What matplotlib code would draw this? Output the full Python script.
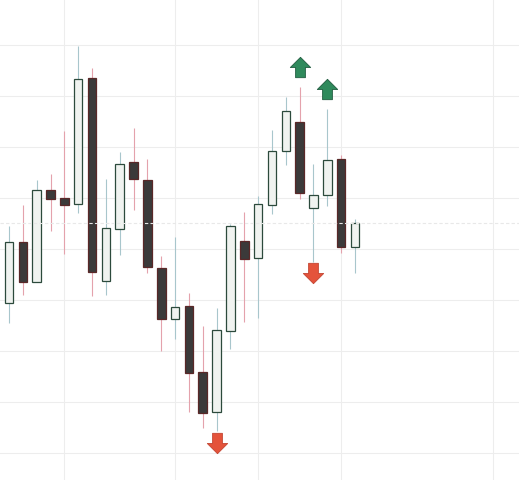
import matplotlib
matplotlib.use("Agg")
import matplotlib.pyplot as plt
from matplotlib.path import Path
import numpy as np

# OHLC values
opens = [39.4, 51.4, 43.5, 61.6, 60.0, 58.8, 83.5, 43.7, 53.9, 67.1, 63.5, 46.3, 36.3,
         38.8, 25.9, 18.0, 33.9, 51.6, 48.2, 58.6, 69.2, 74.9, 58.0, 60.6, 67.6, 50.4]
highs = [54.5, 58.6, 63.5, 64.7, 73.1, 89.8, 85.5, 63.7, 69.0, 73.7, 67.6, 48.6, 52.4,
         41.4, 34.9, 38.4, 54.9, 57.3, 60.4, 73.3, 79.8, 81.8, 66.7, 77.5, 68.4, 55.9]
lows = [35.5, 41.0, 43.5, 53.5, 49.0, 57.1, 40.8, 41.0, 48.8, 57.6, 45.3, 30.0, 32.4,
        18.0, 14.9, 14.3, 30.4, 35.7, 36.5, 56.9, 66.5, 59.8, 47.5, 58.4, 49.2, 45.3]
closes = [51.4, 43.5, 61.6, 59.8, 58.6, 83.3, 45.5, 54.1, 66.7, 63.7, 46.5, 36.3, 38.6,
          25.7, 17.8, 34.1, 54.5, 48.0, 58.8, 69.2, 77.1, 61.0, 60.6, 67.5, 50.4, 55.1]

buy_signals = [21, 23]
sell_signals = [15, 22]
x_grid = [4, 12, 18, 24, 35]
y_grid = [10, 20, 30, 40, 50, 60, 70, 80, 90]

up_fill, up_edge, up_wick = "#f0f3f0", "#2c4a3c", "#a8c6cc"
dn_fill, dn_edge, dn_wick = "#3b3a3a", "#5a2828", "#e4a2ac"

fig = plt.figure(figsize=(5.19, 4.8), dpi=100)
ax = fig.add_axes([0, 0, 1, 1])

for v in x_grid:
    ax.axvline(v, color="#ededed", lw=0.8, zorder=0)
for v in y_grid:
    ax.axhline(v, color="#ededed", lw=0.8, zorder=0)

x = np.arange(len(opens))
o = np.array(opens)
c = np.array(closes)
bull = c >= o

wick_colors = [up_wick if b else dn_wick for b in bull]
ax.vlines(x, lows, highs, colors=wick_colors, lw=0.8, zorder=1)

ax.bar(x, np.abs(c - o), bottom=np.minimum(o, c), width=0.62,
       color=[up_fill if b else dn_fill for b in bull],
       edgecolor=[up_edge if b else dn_edge for b in bull],
       linewidth=0.9, zorder=2)

# last price line
ax.axhline(closes[-1], color="#e8e8e8", lw=0.8, ls=(0, (3, 2)), zorder=3)

# arrow markers
arrow_up = Path([(0, 0.5), (0.5, 0.0), (0.24, 0.0), (0.24, -0.5), (-0.24, -0.5),
                 (-0.24, 0.0), (-0.5, 0.0), (0, 0.5)], closed=True)
arrow_dn = Path([(0, -0.5), (0.5, 0.0), (0.24, 0.0), (0.24, 0.5), (-0.24, 0.5),
                 (-0.24, 0.0), (-0.5, 0.0), (0, -0.5)], closed=True)

ax.scatter(buy_signals, [highs[i] + 3.9 for i in buy_signals], marker=arrow_up,
           s=215, color="#2f8a5c", edgecolor="#1f5a3e", linewidth=0.6, zorder=4)
ax.scatter(sell_signals, [lows[i] - 2.3 for i in sell_signals], marker=arrow_dn,
           s=215, color="#e4533b", edgecolor="#c24330", linewidth=0.6, zorder=4)

ax.set_xlim(-0.65, 36.85)
ax.set_ylim(4.71, 98.82)
ax.axis("off")

fig.savefig("out.png", dpi=100)
